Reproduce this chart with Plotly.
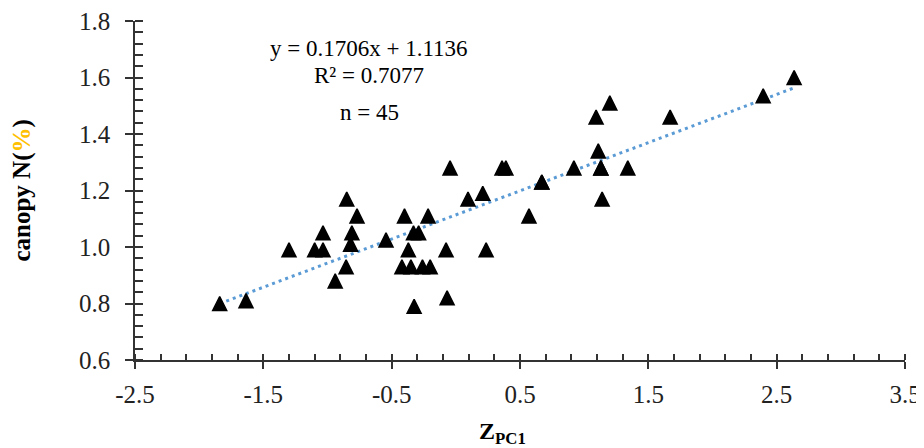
import plotly.graph_objects as go

# Data
z_pc1 = [-1.84, -1.635, -1.30, -1.10, -1.035, -1.035, -0.94, -0.855, -0.85, -0.77,
         -0.81, -0.82, -0.544, -0.40, -0.37, -0.33, -0.29, -0.216, -0.42, -0.35,
         -0.26, -0.20, -0.325, -0.068, -0.076, -0.045, 0.095, 0.21, 0.236, 0.36,
         0.39, 0.57, 0.67, 0.67, 0.92, 1.093, 1.20, 1.11, 1.13, 1.13,
         1.34, 1.14, 1.67, 2.395, 2.636]
canopy_n = [0.80, 0.81, 0.99, 0.99, 0.99, 1.05, 0.88, 0.93, 1.17, 1.11,
            1.05, 1.01, 1.025, 1.11, 0.99, 1.05, 1.05, 1.11, 0.93, 0.93,
            0.93, 0.93, 0.79, 0.82, 0.99, 1.28, 1.17, 1.19, 0.99, 1.28,
            1.28, 1.11, 1.23, 1.23, 1.28, 1.46, 1.51, 1.34, 1.28, 1.28,
            1.28, 1.17, 1.46, 1.535, 1.60]

slope = 0.1706
intercept = 1.1136
r2 = 0.7077
n_obs = 45

x_ticks = [-2.5, -1.5, -0.5, 0.5, 1.5, 2.5, 3.5]
y_ticks = [0.6, 0.8, 1.0, 1.2, 1.4, 1.6, 1.8]

x_min, x_max = min(z_pc1), max(z_pc1)
trend_x = [x_min, x_max]
trend_y = [slope * v + intercept for v in trend_x]

serif = "Liberation Serif, Times New Roman, serif"
tick_color = "#222222"
ax_color = "#333333"
marker_size = 14

fig = go.Figure()
fig.add_trace(go.Scatter(
    x=trend_x, y=trend_y, mode="lines",
    line=dict(color="#5B9BD5", width=3, dash="3px,4px"),
    hoverinfo="skip", showlegend=False))
fig.add_trace(go.Scatter(
    x=z_pc1, y=canopy_n, mode="markers",
    marker=dict(symbol="arrow-down", angle=180, standoff=marker_size / 2,
                size=marker_size, color="black",
                line=dict(color="black", width=1.5)),
    showlegend=False))
# invisible trace on overlay axes so they render
fig.add_trace(go.Scatter(x=[x_ticks[0]], y=[y_ticks[0]], xaxis="x2", yaxis="y2",
                         mode="markers", marker=dict(opacity=0), hoverinfo="skip",
                         showlegend=False))

axis_common = dict(showgrid=False, zeroline=False, linecolor=ax_color, linewidth=1.5,
                   tickcolor=ax_color, tickwidth=1.5, automargin=False,
                   ticklabeloverflow="allow")

# page body adds an 8px margin, so the figure is sized 916x440
fig.update_layout(
    width=916, height=440,
    margin=dict(l=127, r=19, t=13, b=88),
    plot_bgcolor="white", paper_bgcolor="white",
    xaxis=dict(range=[x_ticks[0], x_ticks[-1]], tickvals=x_ticks,
               ticktext=[f"{v:g}" for v in x_ticks],
               ticks="outside", ticklen=7, showline=True,
               tickfont=dict(family=serif, size=25, color=tick_color),
               ticklabelstandoff=4,
               minor=dict(ticks="inside", dtick=0.2, tick0=-2.5, ticklen=6,
                          tickcolor=ax_color, tickwidth=1.5),
               **axis_common),
    yaxis=dict(range=[y_ticks[0], y_ticks[-1]], tickvals=y_ticks,
               ticktext=[f"{v:.1f}" for v in y_ticks],
               ticks="outside", ticklen=8, showline=True,
               tickfont=dict(family=serif, size=25, color=tick_color),
               ticklabelstandoff=10,
               minor=dict(ticks="inside", dtick=0.04, tick0=0.6, ticklen=8,
                          tickcolor=ax_color, tickwidth=1.5),
               **axis_common),
    xaxis2=dict(overlaying="x", matches="x", range=[x_ticks[0], x_ticks[-1]],
                tickvals=x_ticks, ticks="inside", ticklen=6, showticklabels=False,
                showline=False, showgrid=False, zeroline=False, automargin=False,
                tickcolor=ax_color, tickwidth=1.5),
    yaxis2=dict(overlaying="y", matches="y", range=[y_ticks[0], y_ticks[-1]],
                tickvals=y_ticks, ticks="inside", ticklen=8, showticklabels=False,
                showline=False, showgrid=False, zeroline=False, automargin=False,
                tickcolor=ax_color, tickwidth=1.5),
    annotations=[
        dict(xref="paper", yref="paper", x=0.304, y=0.962, xanchor="center",
             text=f"y = {slope}x + {intercept}", showarrow=False,
             font=dict(family=serif, size=23, color="black")),
        dict(xref="paper", yref="paper", x=0.304, y=0.882, xanchor="center",
             text=f"R² = {r2}", showarrow=False,
             font=dict(family=serif, size=23, color="black")),
        dict(xref="paper", yref="paper", x=0.304, y=0.773, xanchor="center",
             text=f"n = {n_obs}", showarrow=False,
             font=dict(family=serif, size=23, color="black")),
        dict(xref="paper", yref="paper", x=0.477, y=-0.215, xanchor="center",
             yanchor="middle",
             text="<b>Z<sub>PC1</sub></b>", showarrow=False,
             font=dict(family=serif, size=24, color="black")),
        dict(xref="paper", yref="paper", x=-0.148, y=0.5, textangle=-90,
             xanchor="center", yanchor="middle",
             text='<b>canopy N(<span style="color:#FFC000">%</span>)</b>',
             showarrow=False,
             font=dict(family=serif, size=25, color="black")),
    ],
)

fig.write_html("out.html")
